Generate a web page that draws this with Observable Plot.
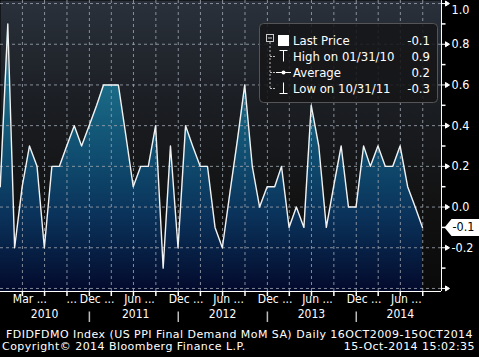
<!DOCTYPE html>
<html><head><meta charset="utf-8">
<script src="https://cdn.jsdelivr.net/npm/d3@7"></script>
<script src="https://cdn.jsdelivr.net/npm/@observablehq/plot@0.6"></script>
<style>
html,body{margin:0;padding:0;background:#000;}
body{width:479px;height:357px;overflow:hidden;font-family:"DejaVu Sans Condensed","DejaVu Sans",sans-serif;color:#fff;}
#chart{position:relative;width:479px;height:322px;}
#chart svg{display:block;}
#footer{font-family:"DejaVu Sans",sans-serif;font-size:11px;letter-spacing:0.45px;line-height:12px;padding-top:7px;}
.row{display:flex;justify-content:space-between;white-space:pre;}
</style></head><body>
<div id="chart"></div>
<div id="footer"><div class="row" style="padding:0 6px 0 6px"><span id="f1l"></span><span id="f1r"></span></div><div class="row" style="padding:0 4px 0 2px"><span id="f2l"></span><span id="f2r"></span></div></div>
<script>
// ---- data ----
const months = ["2009-12-31","2010-01-31","2010-02-28","2010-03-31","2010-04-30","2010-05-31","2010-06-30","2010-07-31","2010-08-31","2010-09-30","2010-10-31","2010-11-30",
"2010-12-31","2011-01-31","2011-02-28","2011-03-31","2011-04-30","2011-05-31","2011-06-30","2011-07-31","2011-08-31","2011-09-30","2011-10-31","2011-11-30",
"2011-12-31","2012-01-31","2012-02-29","2012-03-31","2012-04-30","2012-05-31","2012-06-30","2012-07-31","2012-08-31","2012-09-30","2012-10-31","2012-11-30",
"2012-12-31","2013-01-31","2013-02-28","2013-03-31","2013-04-30","2013-05-31","2013-06-30","2013-07-31","2013-08-31","2013-09-30","2013-10-31","2013-11-30",
"2013-12-31","2014-01-31","2014-02-28","2014-03-31","2014-04-30","2014-05-31","2014-06-30","2014-07-31","2014-08-31","2014-09-30"];
const values = [0.1,0.9,-0.2,0.1,0.3,0.2,-0.2,0.2,0.2,0.3,0.4,0.3,
0.4,0.5,0.6,0.6,0.6,0.35,0.1,0.2,0.2,0.4,-0.3,0.3,
-0.2,0.4,0.3,0.2,0.2,-0.1,-0.2,0.07,0.33,0.6,0.2,0.0,
0.1,0.1,0.2,-0.1,0.0,-0.1,0.5,0.3,-0.1,0.1,0.3,0.0,
0.0,0.3,0.2,0.3,0.2,0.2,0.3,0.1,0.0,-0.1];
const gridDates = ["2010-04-01","2010-07-01","2010-10-01","2011-01-01","2011-04-01","2011-07-01","2011-10-01","2012-01-01","2012-04-01","2012-07-01","2012-10-01","2013-01-01","2013-04-01","2013-07-01","2013-10-01","2014-01-01","2014-04-01","2014-07-01","2014-10-01"];
const monthTickLabels = ["Mar","Dec","Jun","Dec","Jun","Dec","Jun","Dec","Jun"];
const monthTickDates = ["2010-03-01","2010-12-01","2011-06-01","2011-12-01","2012-06-01","2012-12-01","2013-06-01","2013-12-01","2014-06-01"];
const leadingEllipsisDates = ["2010-12-01"];
const yearLabels = ["2010","2011","2012","2013","2014"];
const yearDates = ["2010-07-01","2011-07-10","2012-07-01","2013-07-01","2014-07-01"];
const yearSeparatorDates = ["2011-01-01","2012-01-01","2013-01-01","2014-01-01"];
const yMajor = [-0.4,-0.2,0.0,0.2,0.4,0.6,0.8,1.0];
const yLabeled = [-0.2,0.0,0.2,0.4,0.6,0.8];
const yTopLabel = [1.0];
const yMinor = [-0.3,-0.1,0.1,0.3,0.5,0.7,0.9];
const lastPrice = -0.1;
const legendLabels = ["Last Price","High on 01/31/10","Average","Low on 10/31/11"];
const legendValues = ["-0.1","0.9","0.2","-0.3"];
const footerLeft1 = "FDIDFDMO Index (US PPI Final Demand MoM SA)";
const footerRight1 = "Daily 16OCT2009-15OCT2014";
const footerLeft2 = "Copyright\u00A9 2014 Bloomberg Finance L.P.";
const footerRight2 = "15-Oct-2014 15:02:35";

// ---- build ----
const D = s => new Date(s + "T00:00:00Z");
const series = months.map((m, i) => ({date: D(m), value: values[i]}));
const xDomain = [D("2010-01-01"), D("2014-12-17")];
const yDomain = [-0.415, 1.015];
const FONT = "'DejaVu Sans Condensed','DejaVu Sans',sans-serif";

const tickDown = {draw(c){c.moveTo(0,0);c.lineTo(0,4);}};
const sepSym = {draw(c){c.moveTo(0,-6);c.lineTo(0,6);}};
const minorSym = {draw(c){c.moveTo(0,0);c.lineTo(4,0);}};
const majorSym = {draw(c){c.moveTo(0,0);c.lineTo(5,0);c.moveTo(4,-2.5);c.lineTo(8,0);c.lineTo(4,2.5);c.closePath();}};
const tagSym = {draw(c){c.moveTo(0,0);c.lineTo(7,-8.5);c.lineTo(36,-8.5);c.lineTo(36,8.5);c.lineTo(7,8.5);c.closePath();}};

const chart = Plot.plot({
  width: 479, height: 322,
  marginTop: 0, marginLeft: 0, marginRight: 38, marginBottom: 31,
  style: {background: "#000", color: "#fff", fontFamily: FONT, fontSize: "12px"},
  x: {type: "utc", domain: xDomain, axis: null},
  y: {domain: yDomain, axis: null},
  marks: [
    Plot.frame({fill: "url(#bgGrad)", stroke: "none"}),
    Plot.areaY(series, {x: "date", y1: yDomain[0], y2: "value", fill: "url(#areaGrad)", clip: true}),
    Plot.ruleY(yMajor, {stroke: "#9aa1ac", strokeOpacity: 0.85, strokeDasharray: "3,3"}),
    Plot.ruleX(gridDates.map(D), {stroke: "#9aa1ac", strokeOpacity: 0.85, strokeDasharray: "3,3"}),
    Plot.lineY(series, {x: "date", y: "value", stroke: "#f2f2f2", strokeWidth: 1.4, clip: true}),
    // axis lines
    Plot.ruleY([yDomain[0]], {stroke: "#fff", strokeWidth: 1}),
    Plot.ruleX([xDomain[1]], {stroke: "#fff", strokeWidth: 1}),
    // bottom ticks
    Plot.dot(gridDates.map(D), {x: d => d, frameAnchor: "bottom", symbol: tickDown, stroke: "#fff", fill: "none", dy: 0.5}),
    // right ticks
    Plot.dot(yMinor, {y: d => d, frameAnchor: "right", symbol: minorSym, stroke: "#fff", fill: "none"}),
    Plot.dot(yMajor, {y: d => d, frameAnchor: "right", symbol: majorSym, stroke: "#fff", fill: "#fff", strokeWidth: 1}),
    Plot.text(yLabeled, {y: d => d, frameAnchor: "right", dx: 10, textAnchor: "start", text: d => d.toFixed(1), fill: "#fff", fontSize: 12.5}),
    Plot.text(yTopLabel, {y: d => d, frameAnchor: "right", dx: 10, dy: 6, textAnchor: "start", text: d => d.toFixed(1), fill: "#fff", fontSize: 12.5}),
    // last price tag
    Plot.dot([lastPrice], {y: d => d, frameAnchor: "right", dx: 3, symbol: tagSym, fill: "#fff", stroke: "none"}),
    Plot.text([lastPrice], {y: d => d, frameAnchor: "right", dx: 11, textAnchor: "start", text: d => d.toFixed(1), fill: "#000", fontSize: 12.5}),
    // x labels
    Plot.text(monthTickDates.map(D), {x: d => d, frameAnchor: "bottom", dy: 11, dx: -2, textAnchor: "start", text: (d, i) => monthTickLabels[i] + " ...", fill: "#fff", fontSize: 12}),
    Plot.text(leadingEllipsisDates.map(D), {x: d => d, frameAnchor: "bottom", dy: 11, dx: -5, textAnchor: "end", text: () => "...", fill: "#fff", fontSize: 12}),
    Plot.text(yearDates.map(D), {x: d => d, frameAnchor: "bottom", dy: 26, textAnchor: "middle", text: (d, i) => yearLabels[i], fill: "#fff", fontSize: 12}),
    Plot.dot(yearSeparatorDates.map(D), {x: d => d, frameAnchor: "bottom", dy: 26, symbol: sepSym, stroke: "#bbb", fill: "none"})
  ]
});

const svg = d3.select(chart);
const defs = svg.insert("defs", ":first-child");
const bg = defs.append("linearGradient").attr("id", "bgGrad").attr("gradientUnits", "userSpaceOnUse")
  .attr("x1", 0).attr("y1", 0).attr("x2", 0).attr("y2", 291);
[[0, "#2a313b"], [0.35, "#1b1e23"], [0.7, "#121212"], [1, "#0a0a0a"]].forEach(([o, c]) => bg.append("stop").attr("offset", o).attr("stop-color", c));
const ag = defs.append("linearGradient").attr("id", "areaGrad").attr("gradientUnits", "userSpaceOnUse")
  .attr("x1", 0).attr("y1", 0).attr("x2", 0).attr("y2", 291);
[[0, "#2e95b3"], [0.3, "#1a6a86"], [0.55, "#0f4b6e"], [0.75, "#0a3159"], [1, "#030a2c"]].forEach(([o, c]) => ag.append("stop").attr("offset", o).attr("stop-color", c));

// legend
const g = svg.append("g").attr("font-family", FONT).attr("text-anchor", "start");
g.append("rect").attr("x", 259.5).attr("y", 23.5).attr("width", 178).attr("height", 79).attr("rx", 4)
  .attr("fill", "rgba(22,22,24,0.88)").attr("stroke", "#555");
const rowsY = [40.5, 56.5, 72.5, 88.5];
g.append("rect").attr("x", 266.5).attr("y", 34.5).attr("width", 7).attr("height", 7).attr("fill", "none").attr("stroke", "#ccc");
g.append("line").attr("x1", 268).attr("x2", 272).attr("y1", 38).attr("y2", 38).attr("stroke", "#ccc");
g.append("line").attr("x1", 270).attr("x2", 270).attr("y1", 42).attr("y2", 88.5).attr("stroke", "#bbb").attr("stroke-dasharray", "2,2");
rowsY.slice(1).forEach(y => g.append("line").attr("x1", 270).attr("x2", 275).attr("y1", y).attr("y2", y).attr("stroke", "#bbb").attr("stroke-dasharray", "2,1"));
g.append("rect").attr("x", 278).attr("y", 35).attr("width", 11).attr("height", 11).attr("fill", "#fff");
g.append("path").attr("d", "M279.5,50.5H287.5M283.5,50.5V61.5").attr("stroke", "#fff").attr("fill", "none");
g.append("path").attr("d", "M276,72.5H291").attr("stroke", "#fff").attr("fill", "none");
g.append("circle").attr("cx", 283.5).attr("cy", 72.5).attr("r", 2).attr("fill", "#fff");
g.append("path").attr("d", "M283.5,82.5V93.5M279.5,93.5H287.5").attr("stroke", "#fff").attr("fill", "none");
legendLabels.forEach((t, i) => {
  g.append("text").attr("x", 293).attr("y", rowsY[i]).attr("dy", "0.35em").attr("text-anchor", "start").attr("fill", "#fff").attr("font-size", 13).text(t);
  g.append("text").attr("x", 430).attr("y", rowsY[i]).attr("dy", "0.35em").attr("text-anchor", "end").attr("fill", "#fff").attr("font-size", 13).text(legendValues[i]);
});

document.getElementById("chart").appendChild(chart);
document.getElementById("f1l").textContent = footerLeft1;
document.getElementById("f1r").textContent = footerRight1;
document.getElementById("f2l").textContent = footerLeft2;
document.getElementById("f2r").textContent = footerRight2;
</script>
</body></html>
